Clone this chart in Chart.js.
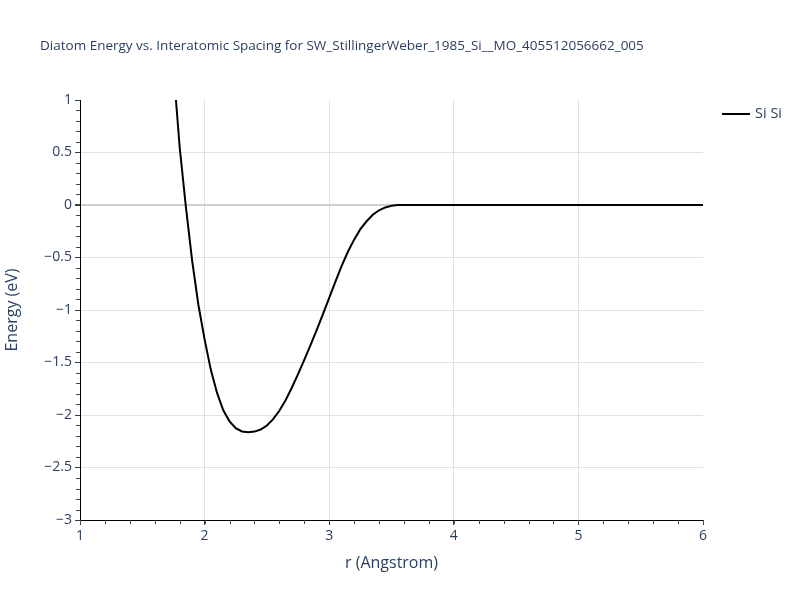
<!DOCTYPE html>
<html>
<head>
<meta charset="utf-8">
<style>
  html, body { margin: 0; padding: 0; background: #fff; }
  #wrap { width: 800px; height: 600px; position: relative; }
</style>
</head>
<body>
<div id="wrap"><canvas id="diatom-chart" width="800" height="600"></canvas></div>
<script src="https://cdn.jsdelivr.net/npm/chart.js@4.4.1/dist/chart.umd.min.js"></script>
<script>
// values
var chartTitle = "Diatom Energy vs. Interatomic Spacing for SW_StillingerWeber_1985_Si__MO_405512056662_005";
var seriesLabel = "Si Si";
var spacing = [1.77, 1.80, 1.85, 1.90, 1.95, 2.00, 2.05, 2.10, 2.15, 2.20, 2.25, 2.30, 2.35, 2.40,
               2.45, 2.50, 2.55, 2.60, 2.65, 2.70, 2.75, 2.80, 2.85, 2.90, 2.95, 3.00, 3.05, 3.10,
               3.15, 3.20, 3.25, 3.30, 3.35, 3.40, 3.45, 3.50, 3.55, 3.60, 4.00, 5.00, 6.00];
var energy = [1.00, 0.55, -0.02, -0.53, -0.95, -1.28, -1.57, -1.79, -1.955, -2.06, -2.125, -2.157, -2.165, -2.158,
              -2.138, -2.10, -2.04, -1.96, -1.86, -1.74, -1.61, -1.475, -1.335, -1.19, -1.04, -0.885, -0.73, -0.58,
              -0.445, -0.33, -0.23, -0.155, -0.093, -0.05, -0.023, -0.008, -0.001, 0, 0, 0, 0];
var xTicks = [1, 2, 3, 4, 5, 6];
var yTicks = [-3, -2.5, -2, -1.5, -1, -0.5, 0, 0.5, 1];

var textColor = "#2a3f5f";
var fontFamily = "'Open Sans', 'DejaVu Sans', sans-serif";

// title, legend and minor ticks, plotly style
var extras = {
  id: "extras",
  afterDraw: function(chart) {
    var ctx = chart.ctx;
    var xs = chart.scales.x, ys = chart.scales.y;
    ctx.save();
    ctx.strokeStyle = "#444";
    ctx.lineWidth = 1;
    ctx.beginPath();
    for (var v = -3; v <= 1.0001; v += 0.1) {
      var py = Math.round(ys.getPixelForValue(v)) + 0.5;
      ctx.moveTo(xs.left - 4, py); ctx.lineTo(xs.left, py);
    }
    for (var u = 1; u <= 6.0001; u += 0.2) {
      var px = Math.round(xs.getPixelForValue(u)) + 0.5;
      ctx.moveTo(px, ys.bottom); ctx.lineTo(px, ys.bottom + 4);
    }
    ctx.stroke();

    ctx.fillStyle = textColor;
    ctx.font = "13.5px " + fontFamily;
    ctx.textBaseline = "middle";
    ctx.textAlign = "left";
    ctx.fillText(chartTitle, 40, 46);

    ctx.strokeStyle = "#000";
    ctx.lineWidth = 2;
    ctx.beginPath();
    ctx.moveTo(722, 114); ctx.lineTo(750, 114);
    ctx.stroke();
    ctx.font = "14.5px " + fontFamily;
    ctx.fillText(seriesLabel, 755, 114);
    ctx.restore();
  }
};

new Chart(document.getElementById("diatom-chart"), {
  type: "line",
  data: {
    datasets: [{
      label: seriesLabel,
      data: spacing.map(function(r, i) { return { x: r, y: energy[i] }; }),
      borderColor: "#000",
      borderWidth: 2,
      pointRadius: 0,
      fill: false,
      tension: 0
    }]
  },
  options: {
    responsive: false,
    animation: false,
    layout: { padding: { top: 100, right: 97, bottom: 0, left: 0 } },
    plugins: { legend: { display: false }, title: { display: false }, tooltip: { enabled: false } },
    scales: {
      x: {
        type: "linear",
        min: 1, max: 6,
        afterBuildTicks: function(s) { s.ticks = xTicks.map(function(v) { return { value: v }; }); },
        afterFit: function(s) { s.height = 80; },
        grid: {
          color: function(c) { return (c.tick && (c.tick.value === 1 || c.tick.value === 6)) ? "rgba(0,0,0,0)" : "#e1e1e1"; },
          tickColor: "#444", tickLength: 5, drawTicks: true
        },
        border: { display: true, color: "#000", width: 1 },
        ticks: { color: textColor, font: { family: fontFamily, size: 14 }, padding: 3, maxRotation: 0 },
        title: { display: true, text: "r (Angstrom)", color: textColor, font: { family: fontFamily, size: 16 }, padding: { top: 0, bottom: 27 } }
      },
      y: {
        type: "linear",
        min: -3, max: 1,
        afterBuildTicks: function(s) { s.ticks = yTicks.map(function(v) { return { value: v }; }); },
        afterFit: function(s) { s.width = 80; },
        grid: {
          color: function(c) {
            if (!c.tick) return "#e1e1e1";
            if (c.tick.value === 1 || c.tick.value === -3) return "rgba(0,0,0,0)";
            return c.tick.value === 0 ? "#cfcfcf" : "#e1e1e1";
          },
          lineWidth: function(c) { return (c.tick && c.tick.value === 0) ? 2 : 1; },
          tickColor: "#444", tickLength: 5, drawTicks: true
        },
        border: { display: true, color: "#000", width: 1 },
        ticks: {
          color: textColor, font: { family: fontFamily, size: 14 }, padding: 3,
          callback: function(v) { return v < 0 ? "\u2212" + Math.abs(v) : String(v); }
        },
        title: { display: true, text: "Energy (eV)", color: textColor, font: { family: fontFamily, size: 16 }, padding: { top: 3, bottom: 0 } }
      }
    }
  },
  plugins: [extras]
});
</script>
</body>
</html>
